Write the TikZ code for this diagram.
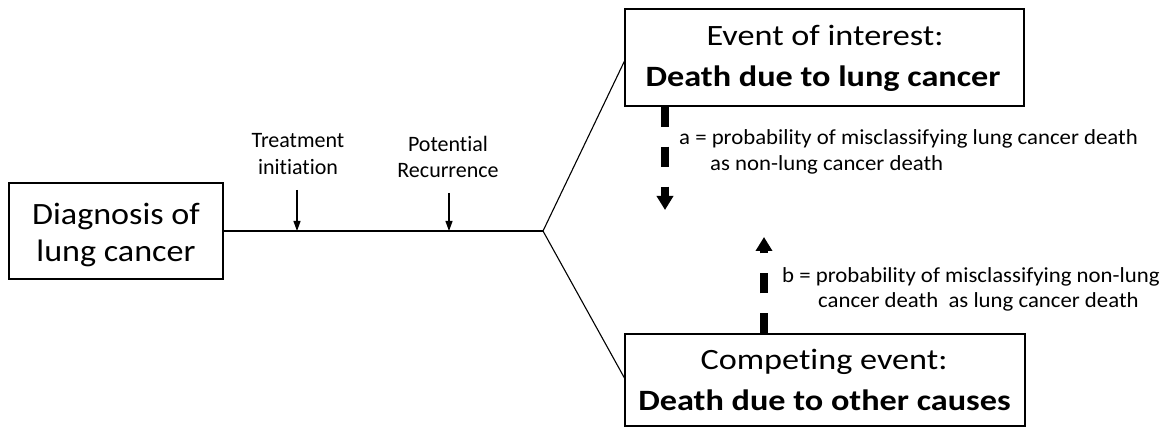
\documentclass[tikz,border=0pt]{standalone}
\usepackage{fontspec}
\setmainfont[Ligatures=NoCommon]{Carlito}
\newfontfamily\boxfont[Ligatures=NoCommon,FakeStretch=1.16]{Carlito}
\newfontfamily\diagfont[Ligatures=NoCommon,FakeStretch=1.1]{Carlito}
\newfontfamily\notefont[Ligatures=NoCommon,FakeStretch=1.06]{Carlito}
\usetikzlibrary{arrows.meta,calc}
\begin{document}
\begin{tikzpicture}[x=1pt,y=-1pt,
  box/.style={draw,line width=1.4pt,inner sep=0pt},
  boxtext/.style={font=\boxfont\fontsize{29.5}{36}\selectfont,anchor=base,inner sep=0pt},
  diagtext/.style={font=\diagfont\fontsize{31}{36}\selectfont,anchor=base,inner sep=0pt},
  small/.style={font=\fontsize{22}{27}\selectfont,anchor=base,inner sep=0pt},
  note/.style={font=\notefont\fontsize{21.5}{26}\selectfont,anchor=base west,inner sep=0pt},
  thin/.style={line width=1.1pt},
  tick/.style={line width=1.1pt,-{Triangle[width=7pt,length=10pt]}},
  dasharrow/.style={line width=7.5pt,dash pattern=on 20pt off 20pt,-{Triangle[width=16pt,length=14pt]}}]
\useasboundingbox (0,0) rectangle (1176,430);
% boxes
\node[box,minimum width=214pt,minimum height=96pt] (diag) at (116,231) {};
\node[box,minimum width=399pt,minimum height=97pt] (top) at (824.5,57.5) {};
\node[box,minimum width=400pt,minimum height=92pt] (bot) at (825,380) {};
% box texts
\node[diagtext] (d1) at (116,225) {Diagnosis of};
\node[diagtext] (d2) at (116,262) {lung cancer};
\node[boxtext] (e1) at (825,46) {Event of interest:};
\node[boxtext] (e2) at (823,87) {\bfseries Death due to lung cancer};
\node[boxtext] (c1) at (824,370) {Competing event:};
\node[boxtext] (c2) at (824.5,410) {\bfseries Death due to other causes};
% timeline
\coordinate (split) at (543,231);
\coordinate (topin) at (625,60);
\coordinate (botin) at (625,379);
\draw[thin] (diag.east |- split) -- (split);
\draw[thin] (split) -- (topin);
\draw[thin] (split) -- (botin);
% time labels
\node[small] (treat1) at (298,148) {Treatment};
\node[small] (treat2) at (298,175) {initiation};
\node[small] (rec1) at (448,152) {Potential};
\node[small] (rec2) at (448,178) {Recurrence};
\coordinate (t1) at (297,190);
\coordinate (t2) at (297,231);
\coordinate (r1) at (449,193);
\coordinate (r2) at (449,231);
\draw[tick] (t1) -- (t2);
\draw[tick] (r1) -- (r2);
% misclassification arrows
\coordinate (aend) at (665,210);
\coordinate (bend) at (764,237);
\draw[dasharrow] (top.south -| aend) -- (aend);
\draw[dasharrow] (bot.north -| bend) -- (bend);
\node[note] (na1) at (679,145) {a = probability of misclassifying lung cancer death};
\node[note] (na2) at (710,171) {as non-lung cancer death};
\node[note] (nb1) at (782,283) {b = probability of misclassifying non-lung};
\node[note] (nb2) at (818,308) {cancer death\ \ as lung cancer death};
\end{tikzpicture}
\end{document}
